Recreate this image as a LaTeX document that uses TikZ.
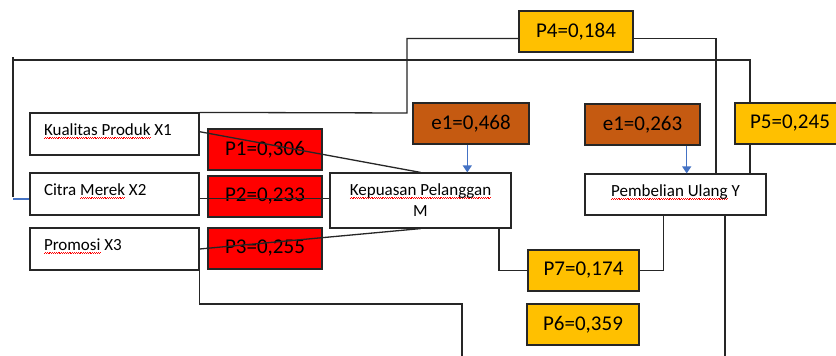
\documentclass[tikz,border=0pt]{standalone}
\usepackage{fontspec}
\setmainfont{Carlito}
\usetikzlibrary{arrows.meta,calc}

\definecolor{pathred}{HTML}{FF0000}
\definecolor{errbrown}{HTML}{C55A11}
\definecolor{pathgold}{HTML}{FFC000}
\definecolor{arrowblue}{HTML}{4472C4}
\definecolor{edgegray}{HTML}{262626}

% red wavy mark under a word
\newlength\squigwd
\newcommand\squig[1]{\settowidth\squigwd{#1}%
  \rlap{\raisebox{-3pt}[0pt][0pt]{\color{red}\hbox to\squigwd{\xleaders\hbox{\rule{0.9pt}{0.7pt}\raisebox{0.8pt}{\rule{0.9pt}{0.7pt}}}\hfill}}}#1}
% left-set line inside the variable boxes
\newcommand\varline[1]{\makebox[141pt][l]{#1}}

\tikzset{
  varbox/.style={draw=edgegray, line width=1.2pt, fill=white, inner xsep=0pt, inner ysep=0pt,
    font=\fontsize{17}{21}\selectfont},
  leftvar/.style={varbox, minimum width=169pt, minimum height=42pt,
    text height=13pt, text depth=10pt},
  coef/.style={draw=edgegray, line width=1.2pt, inner sep=0pt, minimum height=41pt,
    font=\fontsize{21}{25}\selectfont},
  redcoef/.style={coef, fill=pathred, minimum width=114pt},
  errcoef/.style={coef, fill=errbrown},
  goldcoef/.style={coef, fill=pathgold},
  link/.style={draw=edgegray, line width=1.3pt},
  errarrow/.style={draw=arrowblue, line width=1.2pt, -{Triangle[length=7pt,width=9pt]}}
}

\begin{document}
\begin{tikzpicture}[x=1pt,y=-1pt]
\clip (0,0) rectangle (836,356);
\fill[white] (0,0) rectangle (836,356);

% exogenous variables
\node[leftvar] (kual) at (114.5,134) {\varline{\squig{Kualitas Produk} X1}};
\node[leftvar] (cit) at (114.5,194) {\varline{Citra \squig{Merek} X2}};
\node[leftvar] (promo) at (114.5,249) {\varline{\squig{Promosi} X3}};

% path coefficients towards M
\node[redcoef] (p1) at (265,149.5) {P1=0,306};
\node[redcoef] (p2) at (265,196.5) {P2=0,233};
\node[redcoef] (p3) at (265,248.5) {P3=0,255};

% mediator and outcome
\node[varbox, minimum width=181pt, minimum height=55pt, align=center] (kep) at (420.5,200.5)
  {\squig{Kepuasan Pelanggan}\\M};
\node[varbox, minimum width=181pt, minimum height=41pt, text height=13pt, text depth=9pt] (pem) at (675.5,194.5)
  {\squig{Pembelian Ulang} Y};

% error terms
\node[errcoef, minimum width=116pt] (e1a) at (471,123.5) {e1=0,468};
\node[errcoef, minimum width=115pt] (e1b) at (642.5,124.5) {e1=0,263};

% remaining path coefficients
\node[goldcoef, minimum width=114pt] (p4) at (576,31.5) {P4=0,184};
\node[goldcoef, minimum width=110pt] (p5) at (790,123.5) {P5=0,245};
\node[goldcoef, minimum width=111pt] (p7) at (583.5,270.5) {P7=0,174};
\node[goldcoef, minimum width=112pt] (p6) at (583,324.5) {P6=0,359};

% free ends and bends
\coordinate (leftrail) at (13,197);
\coordinate (toprail) at (13,60);
\coordinate (bendA) at (462,304);
\coordinate (endA) at (462,360);
\coordinate (endB) at (725,360);

% X -> M
\draw[link] ([yshift=2.3pt]kual.east) -- (kep.north);
\draw[link] ([yshift=-4.5pt]cit.east) -- ([yshift=-4.5pt]cit.east -| kep.west);
\draw[link] (promo.east) -- (kep.south);

% X1 -> Y via P4
\draw[link] (kual.north east) -- (407,113) |- ([yshift=-7pt]p4.west);
\draw[link] ([yshift=-7pt]p4.east) -| ([xshift=40.5pt]pem.north);

% X2 -> Y via P5
\draw[arrowblue, line width=1.2pt] ([yshift=-5pt]cit.west) -- (13,199);
\draw[link] (leftrail) -- (13,56.5);
\draw[link] (toprail) -| ([xshift=-40pt]p5.north);
\draw[link] ([xshift=-40pt]p5.south) -- ([xshift=-40pt]p5.south |- pem.north);

% M -> Y via P7
\draw[link] ([xshift=78.5pt]kep.south) |- (p7.west);
\draw[link] (p7.east) -| ([xshift=-11.8pt]pem.south);

% X3 and Y leads running off the bottom
\draw[link] (promo.south east) |- (bendA) -- (endA);
\draw[link] (pem.south -| endB) -- (endB);

% error arrows
\draw[errarrow] ([xshift=-3.7pt]e1a.south) -- ([xshift=-3.7pt]e1a.south |- kep.north);
\draw[errarrow] ([xshift=44.2pt]e1b.south) -- ([xshift=44.2pt]e1b.south |- pem.north);
\end{tikzpicture}
\end{document}
